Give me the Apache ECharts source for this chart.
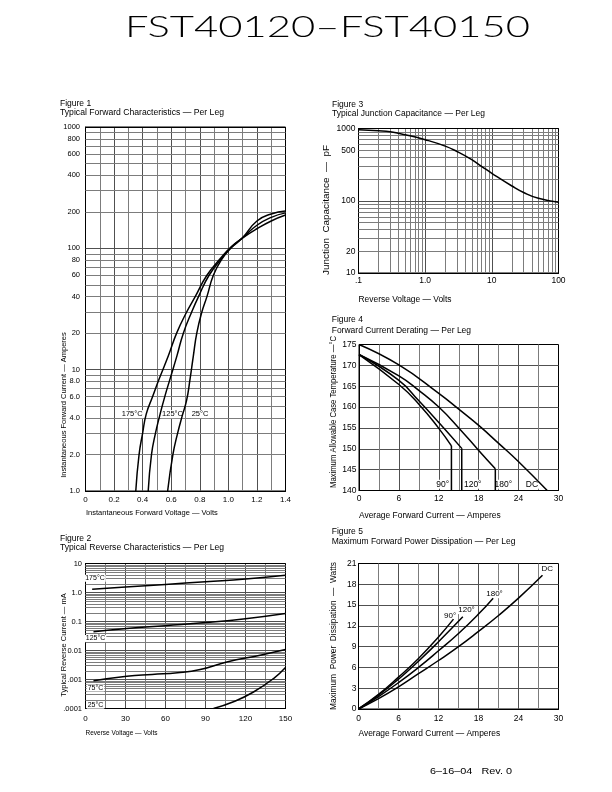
<!DOCTYPE html>
<html><head><meta charset="utf-8">
<script src="https://cdn.jsdelivr.net/npm/echarts@6/dist/echarts.min.js"></script>
<style>html,body{margin:0;padding:0;background:#fff}#c{width:612px;height:792px}</style>
</head><body><div id="c"></div>
<script>
// ================= DATA =================
// Figure 1: forward voltage (V) vs forward current (A)
const fig1Curve175 = [[0.352,1],[0.375,2],[0.40,3],[0.425,4.3],[0.47,6],[0.516,8.4],[0.58,13],[0.638,20],[0.709,30],[0.768,40],[0.85,60],[0.95,84],[1.02,103],[1.096,121],[1.2,145],[1.3,168],[1.4,188]];
const fig1Curve125 = [[0.439,1],[0.462,2],[0.49,3],[0.52,4.2],[0.555,6],[0.592,8.4],[0.64,13],[0.685,20],[0.744,30],[0.791,40],[0.865,60],[0.958,84],[1.025,103],[1.096,121],[1.2,155],[1.3,180],[1.4,196]];
const fig1Curve25  = [[0.575,1],[0.612,2],[0.645,3],[0.678,4.2],[0.708,5.6],[0.732,8.4],[0.755,13],[0.779,20],[0.815,30],[0.85,40],[0.895,60],[0.95,80],[1.02,101],[1.096,121],[1.2,168],[1.3,192],[1.4,203]];
const fig1Names = ['175°C','125°C','25°C'];
const fig1YLabelValues = [1,2,4,6,8,10,20,40,60,80,100,200,400,600,800,1000];
const fig1YLabelTexts  = ['1.0','2.0','4.0','6.0','8.0','10','20','40','60','80','100','200','400','600','800','1000'];

// Figure 2: reverse voltage (V) vs reverse current (mA)
const fig2Curve175 = [[5,1.3],[30,1.55],[60,1.9],[90,2.35],[120,2.9],[150,3.9]];
const fig2Curve125 = [[6,0.044],[31,0.057],[60,0.072],[90,0.092],[120,0.125],[150,0.189]];
const fig2Curve75  = [[6,0.0009],[31,0.0013],[50,0.0015],[69,0.0017],[86,0.0022],[106,0.004],[131,0.0069],[150,0.0108]];
const fig2Curve25  = [[96,0.0001],[111,0.00017],[126,0.00037],[141,0.00108],[150,0.0026]];
const fig2Names = ['175°C','125°C','75°C','25°C'];
const fig2YLabelValues = [10,1,0.1,0.01,0.001,0.0001];
const fig2YLabelTexts  = ['10','1.0','0.1','0.01','.001','.0001'];

// Figure 3: reverse voltage (V) vs junction capacitance (pF)
const fig3Curve = [[0.1,960],[0.2,930],[0.3,900],[0.5,820],[1,700],[2,570],[3,480],[5,370],[7,300],[10,240],[20,160],[30,130],[50,108],[100,95]];
const fig3XLabelValues = [0.1,1,10,100];
const fig3XLabelTexts  = ['.1','1.0','10','100'];
const fig3YLabelValues = [10,20,100,500,1000];
const fig3YLabelTexts  = ['10','20','100','500','1000'];

// Figure 4: average forward current (A) vs max case temperature (°C)
const fig4CurveDC  = [[0,175],[6,170.1],[12,163.3],[15,159.5],[18,155.6],[21,151.3],[24,146.9],[28.3,140]];
const fig4Curve180 = [[0,172.6],[6,167.5],[9,164.0],[12,160.0],[15,155.0],[18,149.6],[20.5,145.2]];
const fig4Curve120 = [[0,172.6],[6,166.4],[9,161.5],[12,156.3],[15.45,150.1]];
const fig4Curve90  = [[0,172.6],[6,165.4],[9,160.7],[12,154.9],[13.9,150.7]];
const fig4Names = ['90°','120°','180°','DC'];

// Figure 5: average forward current (A) vs power dissipation (W)
const fig5CurveDC  = [[0,0],[3,1.5],[6,3.2],[9,5.1],[12,7.0],[15,9.0],[18,11.2],[21,13.5],[24,16.0],[27.6,19.3]];
const fig5Curve180 = [[0,0],[3,1.8],[6,3.8],[9,6.0],[12,8.4],[15,10.9],[18,13.7],[20.2,16.0]];
const fig5Curve120 = [[0,0],[3,2.0],[6,4.3],[9,6.9],[12,9.7],[15.65,13.3]];
const fig5Curve90  = [[0,0],[3,2.1],[6,4.6],[9,7.3],[12,10.4],[14.25,12.97]];
const fig5Names = ['90°','120°','180°','DC'];

// ================= LAYOUT / STYLE =================
const FONT = 'Liberation Sans';
const GRID_MAJOR = '#505050', GRID_MINOR = '#7c7c7c';
const chart = echarts.init(document.getElementById('c'), null, {renderer:'canvas', width:612, height:792});

const grids = [
  {left:85.5, top:127,   width:200,   height:364},   // fig 1
  {left:85.5, top:563.5, width:200,   height:145},   // fig 2
  {left:358.5,top:128.5, width:200,   height:144.5}, // fig 3
  {left:359,  top:344.5, width:199.5, height:146},   // fig 4
  {left:358.5,top:563.5, width:200,   height:145.5}  // fig 5
].map(g => Object.assign({show:true, borderColor:'#000', borderWidth:1, backgroundColor:'transparent'}, g));

function logValues(e0, e1) {
  const out = [];
  for (let e = e0; e < e1; e++) for (let k = 1; k <= 9; k++) out.push(+(k * Math.pow(10, e)).toPrecision(6));
  out.push(+Math.pow(10, e1).toPrecision(6));
  return out;
}
function near(a, b) { return Math.abs(a - b) <= Math.abs(b) * 1e-6; }
function logLines(axisKey, values, labVals, labTexts, ext) {
  return values.map(v => {
    const idx = labVals.findIndex(l => near(l, v));
    const isExt = near(v, ext[0]) || near(v, ext[1]);
    const m = v / Math.pow(10, Math.floor(Math.log10(v) + 1e-9));
    const item = {};
    item[axisKey] = v;
    item.lineStyle = {color: isExt ? '#000' : (near(m, 1) ? GRID_MAJOR : GRID_MINOR), width: 1, type: 'solid'};
    item.label = idx >= 0 ? {show: true, formatter: labTexts[idx]} : {show: false};
    return item;
  });
}
function markLineOpt(data, fontSize, distance) {
  return {silent:true, symbol:['none','none'], precision:10, z:1, animation:false,
    label:{position:'start', distance:distance, color:'#000', fontFamily:FONT, fontSize:fontSize},
    emphasis:{disabled:true}, data:data};
}
function markPointOpt(items, fontSize) {
  return {silent:true, symbol:'rect', symbolSize:1, z:1.5, animation:false,
    itemStyle:{color:'rgba(0,0,0,0)'},
    label:{show:true, position:'inside', color:'#000', fontFamily:FONT, fontSize:fontSize, backgroundColor:'#fff', padding:[0,1]},
    data: items.map(it => ({coord:[it[1], it[2]], label:{formatter: it[0]}}))};
}
function valAxis(gi, min, max, interval, fs, margin, minorSplit, fmt) {
  return {type:'value', gridIndex:gi, min:min, max:max, interval:interval,
    axisLine:{show:true, lineStyle:{color:'#000', width:1}}, axisTick:{show:false},
    axisLabel:{color:'#000', fontFamily:FONT, fontSize:fs, margin:margin, formatter:fmt},
    splitLine:{show:true, showMinLine:false, showMaxLine:false, lineStyle:{color:GRID_MAJOR, width:1}},
    minorTick:{show:false, splitNumber:2},
    minorSplitLine:{show:minorSplit, lineStyle:{color:GRID_MINOR, width:1}}};
}
function logAxis(gi, min, max) {
  return {type:'log', logBase:10, gridIndex:gi, min:min, max:max,
    axisLine:{show:true, lineStyle:{color:'#000', width:1}}, axisTick:{show:false},
    axisLabel:{show:false}, splitLine:{show:false}};
}
function curve(data, xi, yi, smooth) {
  return {type:'line', xAxisIndex:xi, yAxisIndex:yi, data:data, symbol:'none', smooth:smooth,
    lineStyle:{color:'#000', width:1.5}, silent:true, animation:false, z:2};
}
function drop(data, xi, yi, base) {
  const last = data[data.length - 1];
  return curve([last, [last[0], base]], xi, yi, false);
}

const xAxes = [
  valAxis(0, 0, 1.4, 0.2, 8, 5, true, v => v === 0 ? '0' : v.toFixed(1)),
  valAxis(1, 0, 150, 30, 8, 6, true),
  logAxis(2, 0.1, 100),
  valAxis(3, 0, 30, 6, 8.5, 4, true),
  valAxis(4, 0, 30, 6, 8.5, 5, true)
];
const yAxes = [
  logAxis(0, 1, 1000),
  logAxis(1, 0.0001, 10),
  logAxis(2, 10, 1000),
  valAxis(3, 140, 175, 5, 8.5, 2.5, false),
  valAxis(4, 0, 21, 3, 8.5, 2, false)
];

const SM = 0.5;
const series = [
  // grid lines / labels for log axes (drawn through the axes' own scales)
  {type:'line', xAxisIndex:0, yAxisIndex:0, data:[], silent:true,
    markLine: markLineOpt(logLines('yAxis', logValues(0,3), fig1YLabelValues, fig1YLabelTexts, [1,1000]), 7.5, 5.5),
    markPoint: markPointOpt([[fig1Names[0],0.327,4.3],[fig1Names[1],0.609,4.3],[fig1Names[2],0.802,4.3]], 7.5)},
  {type:'line', xAxisIndex:1, yAxisIndex:1, data:[], silent:true,
    markLine: markLineOpt(logLines('yAxis', logValues(-4,1), fig2YLabelValues, fig2YLabelTexts, [0.0001,10]), 7.5, 3.5),
    markPoint: markPointOpt([[fig2Names[0],7.1,3.1],[fig2Names[1],7.5,0.026],[fig2Names[2],7.5,0.00051],[fig2Names[3],7.5,0.00013]], 7)},
  {type:'line', xAxisIndex:2, yAxisIndex:2, data:[], silent:true,
    markLine: markLineOpt(
      logLines('xAxis', logValues(-1,2), fig3XLabelValues, fig3XLabelTexts, [0.1,100])
        .concat(logLines('yAxis', logValues(1,3), fig3YLabelValues, fig3YLabelTexts, [10,1000])), 8.5, 3)},
  {type:'line', xAxisIndex:3, yAxisIndex:3, data:[], silent:true,
    markPoint: markPointOpt([[fig4Names[0],12.6,141.5],[fig4Names[1],17.1,141.5],[fig4Names[2],21.7,141.5],[fig4Names[3],26.0,141.5]], 8.5)},
  {type:'line', xAxisIndex:4, yAxisIndex:4, data:[], silent:true,
    markPoint: markPointOpt([[fig5Names[0],13.75,13.45],[fig5Names[1],16.2,14.27],[fig5Names[2],20.4,16.57],[fig5Names[3],28.3,20.2]], 8)},

  curve(fig1Curve175, 0, 0, SM), curve(fig1Curve125, 0, 0, SM), curve(fig1Curve25, 0, 0, SM),
  curve(fig2Curve175, 1, 1, SM), curve(fig2Curve125, 1, 1, SM), curve(fig2Curve75, 1, 1, SM), curve(fig2Curve25, 1, 1, SM),
  curve(fig3Curve, 2, 2, SM),
  curve(fig4CurveDC, 3, 3, SM), curve(fig4Curve180, 3, 3, SM), curve(fig4Curve120, 3, 3, SM), curve(fig4Curve90, 3, 3, SM),
  drop(fig4Curve180, 3, 3, 140), drop(fig4Curve120, 3, 3, 140), drop(fig4Curve90, 3, 3, 140),
  curve(fig5CurveDC, 4, 4, SM), curve(fig5Curve180, 4, 4, SM), curve(fig5Curve120, 4, 4, SM), curve(fig5Curve90, 4, 4, SM)
];

// ---- texts ----
const mctx = document.createElement('canvas').getContext('2d');
function txt(t, x, y, size, align, width, rot, family, weight) {
  family = family || FONT; weight = weight || 'normal';
  mctx.font = weight + ' ' + size + 'px "' + family + '"';
  const w = mctx.measureText(t).width;
  const sx = width ? width / w : 1;
  return {type:'text', x:x, y:y, rotation:rot || 0, scaleX:sx, scaleY:1, silent:true, z:10,
    style:{text:t, fontSize:size, fontFamily:family, fontWeight:weight, fill:'#000',
      align:align || 'left', verticalAlign:'middle', textAlign:align || 'left', textVerticalAlign:'middle'}};
}
const R = Math.PI / 2;
const graphics = [
  txt('FST40120–FST40150', 327.5, 27.5, 30, 'center', 405, 0, 'Lato', 300),
  txt('Figure 1', 60, 104, 8.5),
  txt('Typical Forward Characteristics — Per Leg', 60, 112.7, 8.5, 'left', 164),
  txt('Instantaneous Forward Voltage — Volts', 86, 513, 7.5),
  txt('Instantaneous Forward Current — Amperes', 64, 405, 7.5, 'center', null, R),
  txt('Figure 2', 60, 539, 8.5),
  txt('Typical Reverse Characteristics — Per Leg', 60, 548, 8.5, 'left', 164),
  txt('Reverse Voltage — Volts', 85.5, 733.3, 7.2, 'left', 72),
  txt('Typical Reverse Current — mA', 64, 645, 7.5, 'center', null, R),
  txt('Figure 3', 332, 104.3, 8.5),
  txt('Typical Junction Capacitance — Per Leg', 332, 114, 8.5, 'left', 153),
  txt('Reverse Voltage — Volts', 358.5, 299.3, 8.4, 'left', 93),
  txt('Junction  Capacitance  —  pF', 327, 210, 9, 'center', 130, R),
  txt('Figure 4', 331.7, 320, 8.5),
  txt('Forward Current Derating — Per Leg', 331.7, 330.7, 8.5),
  txt('Average Forward Current — Amperes', 359, 516, 8.4, 'left', 141.7),
  txt('Maximum Allowable Case Temperature —°C', 334, 412, 8.5, 'center', 152, R),
  txt('Figure 5', 331.7, 531.7, 8.5),
  txt('Maximum Forward Power Dissipation — Per Leg', 331.7, 541.7, 8.5),
  txt('Average Forward Current — Amperes', 358.5, 734, 8.4, 'left', 141.7),
  txt('Maximum  Power  Dissipation  —  Watts', 334, 636, 8.5, 'center', 148, R),
  txt('6–16–04   Rev. 0', 430, 771.7, 9, 'left', 82)
];

chart.setOption({
  animation:false,
  backgroundColor:'#fff',
  textStyle:{fontFamily:FONT},
  grid:grids, xAxis:xAxes, yAxis:yAxes, series:series, graphic:graphics
});
</script></body></html>
